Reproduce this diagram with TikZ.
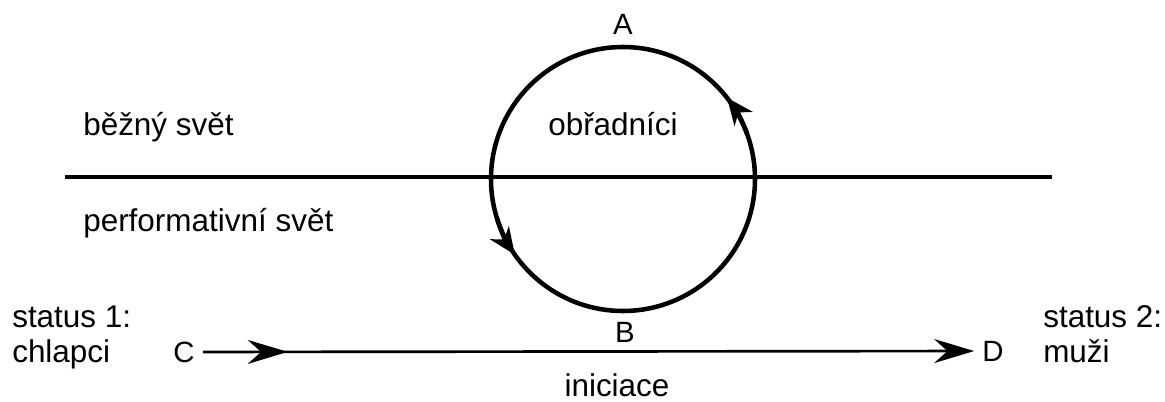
\documentclass[tikz,border=0pt]{standalone}
\usepackage{fontspec}
\setmainfont{Liberation Sans}
\usetikzlibrary{arrows.meta,decorations.markings}
\tikzset{
  lbl/.style={font=\fontsize{23.6}{26}\selectfont, inner sep=0pt, anchor=base west},
  letter/.style={font=\fontsize{22}{24}\selectfont, inner ysep=1pt, inner xsep=6pt},
  ring/.style={line width=3.4pt},
  divider/.style={line width=2.5pt},
  ringtip/.style={line width=3.4pt, -{Stealth[length=20pt,width=17pt,inset=6pt]}},
  pathline/.style={line width=2pt, -{Stealth[length=30pt,width=18pt,inset=10pt]}},
}
\begin{document}
\begin{tikzpicture}[x=0.75pt,y=0.75pt]
\useasboundingbox (0,0) rectangle (1165,401);
% circle and divider
\coordinate (O) at (623,222);
\coordinate (L1) at (65,224);
\coordinate (L2) at (1052,224);
\draw[divider] (L1) -- (L2);
\draw[ring] (O) circle[radius=99pt];
\draw[ringtip] ([shift={(20:99pt)}]O) arc[start angle=20,end angle=38,radius=99pt];
\draw[ringtip] ([shift={(197:99pt)}]O) arc[start angle=197,end angle=215,radius=99pt];
% letters
\node[letter] (A) at (623,377) {A};
\node[letter] (B) at (625,69) {B};
\node[letter] (C) at (184,49) {C};
\node[letter] (D) at (993,50) {D};
\draw[pathline, postaction={decorate}, decoration={markings, mark=at position 0.11 with {\arrow{Stealth[length=30pt,width=18pt,inset=10pt]}}}] (C) -- (D);
% texts
\node[lbl] (t1) at (83,266) {běžný svět};
\node[lbl] (t2) at (548,266) {obřadníci};
\node[lbl] (t3) at (83,170) {performativní svět};
\node[lbl] (s1) at (12,74) {status 1:};
\node[lbl] (s1b) at (12,39) {chlapci};
\node[lbl] (s2) at (1043,74) {status 2:};
\node[lbl] (s2b) at (1043,39) {muži};
\node[lbl, anchor=base] (ini) at (617,5) {iniciace};
\end{tikzpicture}
\end{document}
